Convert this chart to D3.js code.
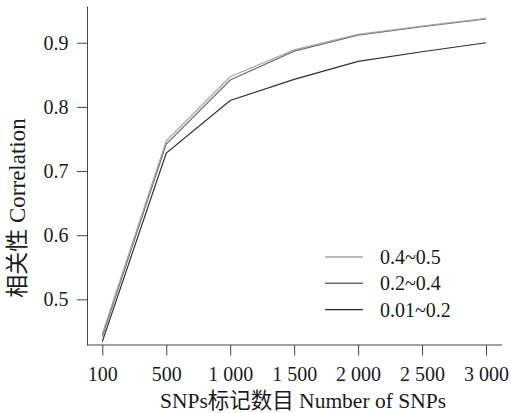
<!DOCTYPE html>
<html>
<head>
<meta charset="utf-8">
<script src="https://cdn.jsdelivr.net/npm/d3@7"></script>
<style>
  body { margin: 0; background: #fff; }
  svg text { font-family: "Liberation Serif", "Noto Sans CJK SC", serif; fill: #1a1a1a; }
</style>
</head>
<body>
<div id="chart"></div>
<script>
// categories on the x axis (equally spaced)
var snpCounts = ["100", "500", "1 000", "1 500", "2 000", "2 500", "3 000"];
// correlation for each MAF range
var maf_04_05 = [0.446, 0.747, 0.847, 0.889, 0.913, 0.926, 0.938];
var maf_02_04 = [0.442, 0.742, 0.842, 0.887, 0.912, 0.925, 0.937];
var maf_001_02 = [0.434, 0.728, 0.810, 0.843, 0.871, 0.886, 0.900];
var yTicks = [0.5, 0.6, 0.7, 0.8, 0.9];

var series = [
    {name: "0.4~0.5", values: maf_04_05, color: "#a5a5a5"},
    {name: "0.2~0.4", values: maf_02_04, color: "#6e6e6e"},
    {name: "0.01~0.2", values: maf_001_02, color: "#2e2e2e"}
];

var W = 511, H = 413;
var margin = {top: 6, right: 9, bottom: 68, left: 87};
var serif = "'Liberation Serif', 'Noto Sans CJK SC', serif";

var svg = d3.select("#chart").append("svg")
    .attr("width", W).attr("height", H);

// scales
var x = d3.scalePoint().domain(snpCounts).range([102.3, 486]);
var y = d3.scaleLinear().domain([0.4288, 0.9573]).range([H - margin.bottom, margin.top]);

// x axis
var xAxis = svg.append("g")
    .attr("transform", "translate(0," + y.range()[0] + ")")
    .call(d3.axisBottom(x).tickSize(10.5).tickPadding(11).tickSizeOuter(0))
    .attr("font-family", serif).attr("font-size", 20);
xAxis.select(".domain").remove();
xAxis.append("line")
    .attr("x1", margin.left).attr("x2", W - margin.right)
    .attr("stroke", "#444");
xAxis.selectAll("line").attr("stroke", "#444");
xAxis.selectAll("text").style("font-size", "20px").attr("fill", "#1a1a1a");

// y axis
var yAxis = svg.append("g")
    .attr("transform", "translate(" + margin.left + ",0)")
    .call(d3.axisLeft(y).tickValues(yTicks).tickFormat(d3.format(".1f"))
        .tickSize(10).tickPadding(8.5).tickSizeOuter(0))
    .attr("font-family", serif).attr("font-size", 20);
yAxis.selectAll("path, line").attr("stroke", "#444");
yAxis.selectAll("text").style("font-size", "20px").attr("fill", "#1a1a1a");

// axis titles
svg.append("text")
    .attr("x", 303).attr("y", 408)
    .attr("text-anchor", "middle").style("font-size", "21.5px")
    .text("SNPs标记数目 Number of SNPs");
svg.append("text")
    .attr("transform", "translate(25,208) rotate(-90)")
    .attr("text-anchor", "middle").style("font-size", "23px")
    .text("相关性 Correlation");

// lines
var line = d3.line()
    .x(function(d, i) { return x(snpCounts[i]); })
    .y(function(d) { return y(d); });

svg.selectAll(".series").data(series.slice().reverse()).enter()
    .append("path").attr("class", "series")
    .attr("d", function(d) { return line(d.values); })
    .attr("fill", "none")
    .attr("stroke", function(d) { return d.color; })
    .attr("stroke-width", 1.2);

// legend
var legend = svg.append("g").attr("transform", "translate(325,257)");
var item = legend.selectAll("g").data(series).enter()
    .append("g").attr("transform", function(d, i) { return "translate(0," + i * 26.3 + ")"; });
item.append("line")
    .attr("x1", 0).attr("x2", 38)
    .attr("stroke", function(d) { return d.color; })
    .attr("stroke-width", 1.4);
item.append("text")
    .attr("x", 55).attr("dy", "0.35em")
    .style("font-size", "20px")
    .text(function(d) { return d.name; });
</script>
</body>
</html>
